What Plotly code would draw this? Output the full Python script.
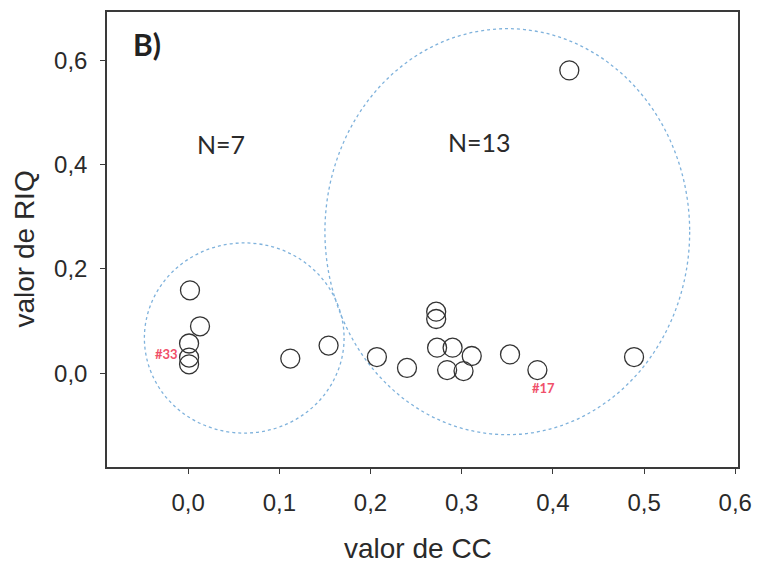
import plotly.graph_objects as go

# CC (x) and RIQ (y) values per case
cc_values = [0.002, 0.013, 0.001, 0.001, 0.001, 0.112, 0.154,
             0.207, 0.240, 0.272, 0.272, 0.273, 0.290, 0.311, 0.284,
             0.302, 0.353, 0.383, 0.489, 0.418]
riq_values = [0.159, 0.090, 0.057, 0.030, 0.017, 0.028, 0.053,
              0.031, 0.010, 0.118, 0.104, 0.049, 0.049, 0.033, 0.006,
              0.004, 0.036, 0.006, 0.031, 0.581]

# Groups: label and enclosing ellipse (x0, x1, y0, y1 in data units)
group_labels = ["N=7", "N=13"]
group_label_pos = [(0.036, 0.440), (0.320, 0.443)]
group_ellipses = [(-0.048, 0.171, -0.115, 0.250),
                  (0.150, 0.550, -0.118, 0.661)]

# Highlighted cases: (label, index into the value lists)
case_labels = [("#33", 3), ("#17", 17)]

x_ticks = [0.0, 0.1, 0.2, 0.3, 0.4, 0.5, 0.6]
y_ticks = [0.0, 0.2, 0.4, 0.6]

axis_color = "#3a3a3a"
text_color = "#2a2a2a"
ring_color = "#7fb2dc"
case_color = "#f0506a"

fig = go.Figure()
fig.add_trace(go.Scatter(
    x=cc_values, y=riq_values, mode="markers",
    marker=dict(symbol="circle-open", size=19,
                color="#333333", line=dict(width=1.3, color="#333333")),
    showlegend=False, hoverinfo="x+y",
))

for (x0, x1, y0, y1) in group_ellipses:
    fig.add_shape(type="circle", xref="x", yref="y",
                  x0=x0, x1=x1, y0=y0, y1=y1,
                  line=dict(color=ring_color, width=1.3, dash="dot"),
                  layer="below")

for text, (gx, gy) in zip(group_labels, group_label_pos):
    fig.add_annotation(x=gx, y=gy, xref="x", yref="y", text=text,
                       showarrow=False,
                       font=dict(family="Lato", size=25, color=text_color))

# Case tags placed next to their points
fig.add_annotation(x=cc_values[case_labels[0][1]], y=riq_values[case_labels[0][1]],
                   xref="x", yref="y", text="<b>" + case_labels[0][0] + "</b>",
                   showarrow=False, xanchor="right", xshift=-9, yshift=4,
                   font=dict(family="Lato", size=13, color=case_color))
fig.add_annotation(x=cc_values[case_labels[1][1]], y=riq_values[case_labels[1][1]],
                   xref="x", yref="y", text="<b>" + case_labels[1][0] + "</b>",
                   showarrow=False, xshift=6, yshift=-18,
                   font=dict(family="Lato", size=13, color=case_color))

# Panel letter
fig.add_annotation(x=0.063, y=0.93, xref="paper", yref="paper", text="<b>B)</b>",
                   showarrow=False, xanchor="center", yanchor="middle",
                   font=dict(family="Lato", size=30, color="#222222"))

# Axis titles
fig.add_annotation(x=0.5, y=0, xref="paper", yref="paper", text="valor de CC",
                   showarrow=False, yanchor="middle", yshift=-81, xshift=-5,
                   font=dict(family="Liberation Sans, Arial", size=28, color=text_color))
fig.add_annotation(x=0, y=0.5, xref="paper", yref="paper", text="valor de RIQ",
                   showarrow=False, textangle=-90, xanchor="center", xshift=-83, yshift=-10,
                   font=dict(family="Liberation Sans, Arial", size=28, color=text_color))

tick_font = dict(family="Liberation Sans, Arial", size=24, color=text_color)
fig.update_xaxes(range=[-0.089, 0.603], tickvals=x_ticks,
                 ticktext=[f"{v:.1f}".replace(".", ",") for v in x_ticks],
                 ticks="outside", ticklen=5, tickcolor=axis_color,
                 showline=True, linecolor=axis_color, linewidth=1.5, mirror=True,
                 showgrid=False, zeroline=False, tickfont=tick_font,
                 ticklabelstandoff=8)
fig.update_yaxes(range=[-0.18, 0.693], tickvals=y_ticks,
                 ticktext=[f"{v:.1f}".replace(".", ",") for v in y_ticks],
                 ticks="outside", ticklen=5, tickcolor=axis_color,
                 showline=True, linecolor=axis_color, linewidth=1.5, mirror=True,
                 showgrid=False, zeroline=False, tickfont=tick_font,
                 ticklabelstandoff=8)

fig.update_layout(width=762, height=564,
                  margin=dict(l=107, r=17, t=10, b=97),
                  paper_bgcolor="white", plot_bgcolor="white")

fig.write_html("out.html")
